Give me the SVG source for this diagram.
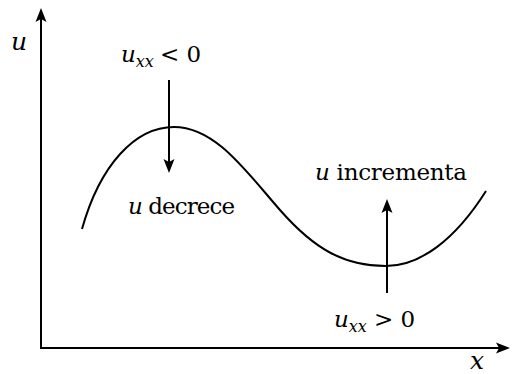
<svg xmlns="http://www.w3.org/2000/svg" width="512" height="374" viewBox="0 0 512 374">
<style>
.ln{stroke:#000;stroke-width:2;fill:none}
.t{font-family:"DejaVu Serif","Liberation Serif",serif;font-size:23px;fill:#000}
.i{font-style:italic}
.sub{font-size:16px;font-style:italic}
</style>
<defs>
<marker id="ah" viewBox="-16 -7 18 14" refX="-6" refY="0" markerWidth="18" markerHeight="14" markerUnits="userSpaceOnUse" orient="auto">
<path d="M0,0 L-14,-5.5 L-11,0 L-14,5.5 Z" fill="#000"/>
</marker>
</defs>
<rect width="512" height="374" fill="#fff"/>
<g id="axes">
<line class="ln" x1="41" y1="349" x2="41" y2="14" marker-end="url(#ah)"/>
<line class="ln" x1="40" y1="348" x2="504" y2="348" marker-end="url(#ah)"/>
<text class="t i" x="11" y="50" style="font-size:25px">u</text>
<text class="t i" x="470" y="369" style="font-size:25px">x</text>
</g>
<g id="curve">
<path class="ln" d="M82,229 C100,165 135,127 174,127 C215,127 245,170 280,210 C315,250 345,266 386,266 C420,266 455,240 486,191"/>
</g>
<g id="connectors">
<line class="ln" x1="169" y1="80" x2="169" y2="167" marker-end="url(#ah)"/>
<line class="ln" x1="387" y1="293" x2="387" y2="205" marker-end="url(#ah)"/>
</g>
<g id="label-neg">
<text class="t" x="121" y="62"><tspan class="i">u</tspan><tspan class="sub" dy="5">xx</tspan><tspan dy="-5" dx="6">&lt; 0</tspan></text>
</g>
<g id="label-dec">
<text class="t" x="128" y="214" textLength="107"><tspan class="i">u</tspan> decrece</text>
</g>
<g id="label-inc">
<text class="t" x="315" y="180" textLength="152"><tspan class="i">u</tspan> incrementa</text>
</g>
<g id="label-pos">
<text class="t" x="334" y="327"><tspan class="i">u</tspan><tspan class="sub" dy="5">xx</tspan><tspan dy="-5" dx="7">&gt; 0</tspan></text>
</g>
</svg>
